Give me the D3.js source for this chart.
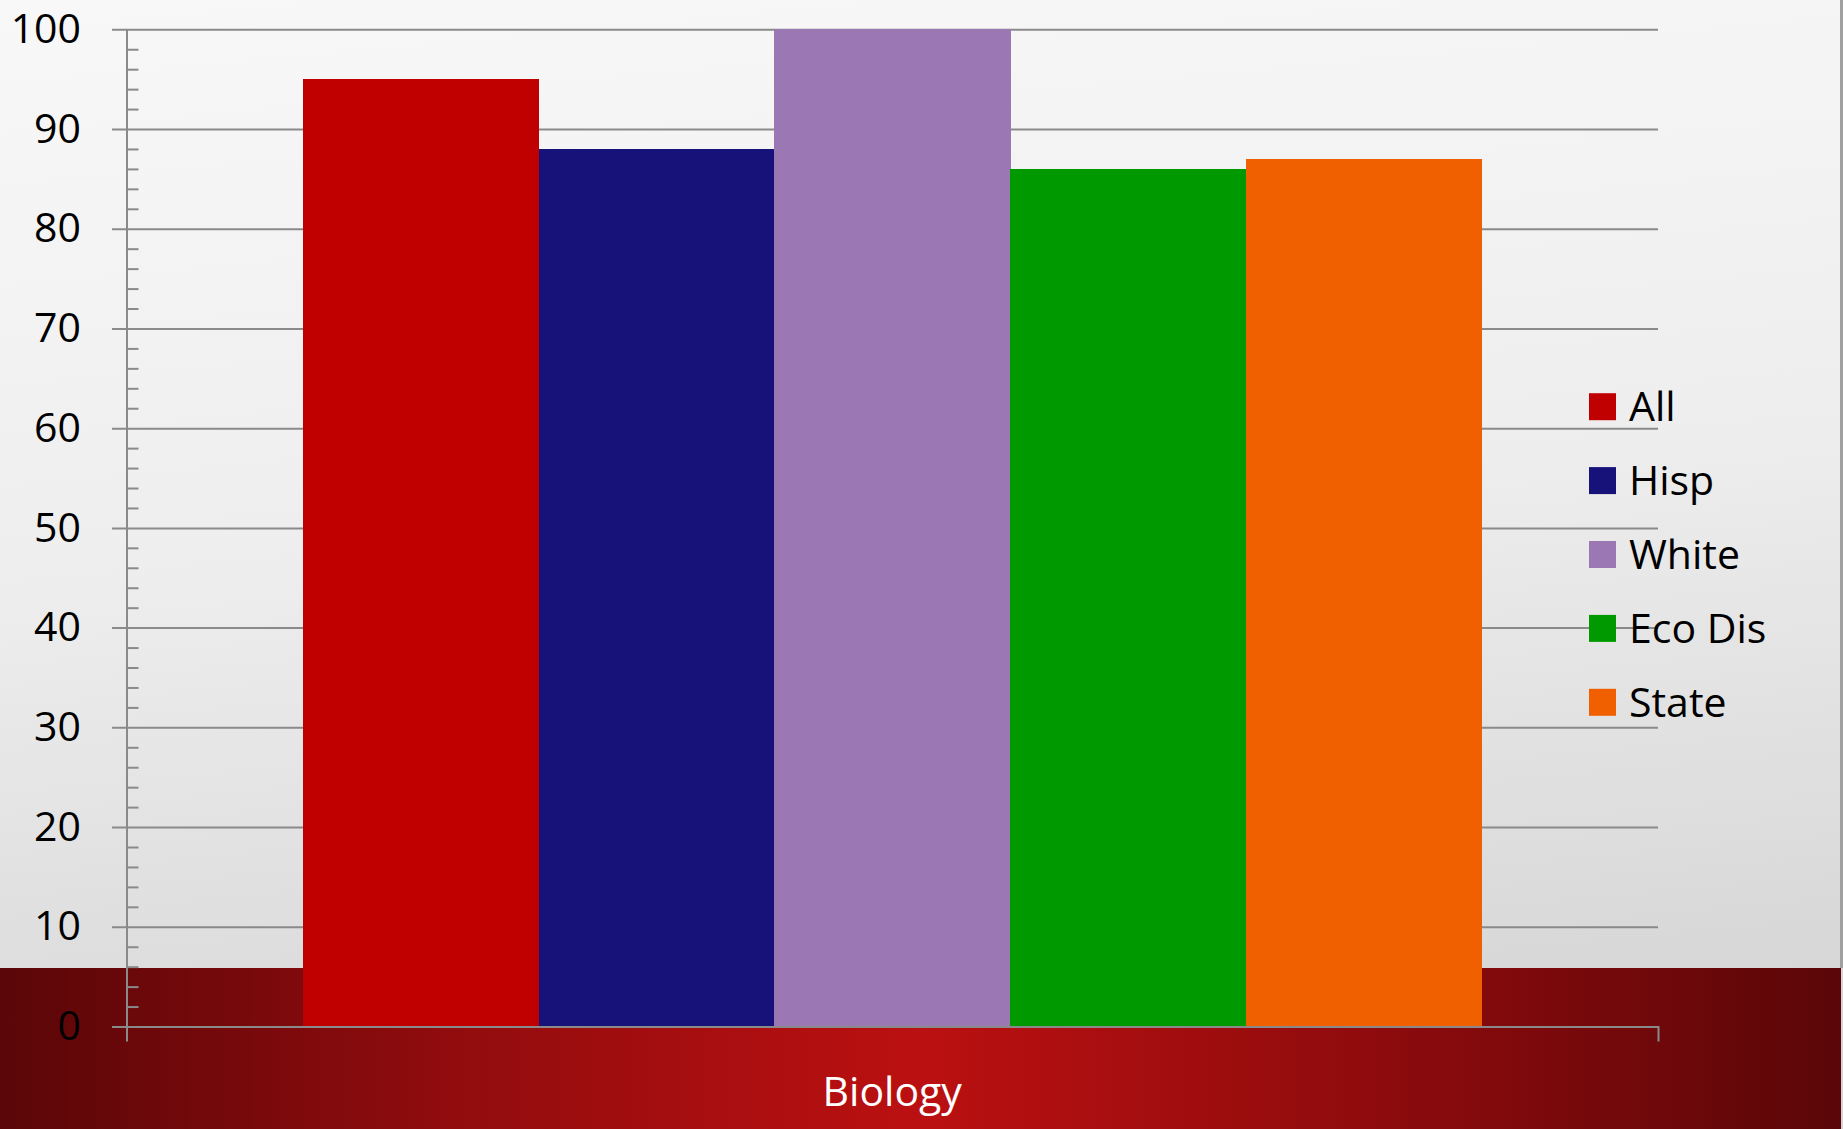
<!DOCTYPE html>
<html><head><meta charset="utf-8">
<script src="https://cdn.jsdelivr.net/npm/d3@7"></script>
<style>html,body{margin:0;padding:0;overflow:hidden;background:#fff}svg{display:block}</style>
</head><body>
<script>
const categories = ["Biology"];
const seriesNames = ["All", "Hisp", "White", "Eco Dis", "State"];
const seriesValues = [95, 88, 100, 86, 87];
const seriesColors = ["#C00000", "#17127A", "#9B78B4", "#009900", "#F06000"];
const yMajorTicks = [0, 10, 20, 30, 40, 50, 60, 70, 80, 90, 100];
const yMinorTicks = d3.range(0, 101, 2).filter(v => v % 10 !== 0);

const W = 1843, H = 1129;
const plotL = 126.5, plotR = 1658, plotT = 29.3, plotB = 1026.5;
const font = "'Open Sans', 'Liberation Sans', sans-serif";

const svg = d3.select("body").append("svg").attr("width", W).attr("height", H);
const defs = svg.append("defs");
const bg = defs.append("linearGradient").attr("id", "bg").attr("x1", 0).attr("y1", 0).attr("x2", 0.15).attr("y2", 1);
bg.append("stop").attr("offset", 0).attr("stop-color", "#f8f8f8");
bg.append("stop").attr("offset", 0.5).attr("stop-color", "#eeeeee");
bg.append("stop").attr("offset", 1).attr("stop-color", "#d6d6d6");
const band = defs.append("linearGradient").attr("id", "band").attr("x1", 0).attr("y1", 0).attr("x2", 1).attr("y2", 0);
band.append("stop").attr("offset", 0).attr("stop-color", "#5a0608");
band.append("stop").attr("offset", 0.25).attr("stop-color", "#920c0e");
band.append("stop").attr("offset", 0.5).attr("stop-color", "#bb1011");
band.append("stop").attr("offset", 0.75).attr("stop-color", "#8e0b0d");
band.append("stop").attr("offset", 1).attr("stop-color", "#5a0608");

svg.append("rect").attr("width", W).attr("height", H).attr("fill", "url(#bg)");
svg.append("rect").attr("x", 1840).attr("y", 0).attr("width", 3).attr("height", 968).attr("fill", "#a0a0a0");
svg.append("rect").attr("x", 0).attr("y", 968).attr("width", 1841).attr("height", H - 968).attr("fill", "url(#band)");

const y = d3.scaleLinear().domain([0, 100]).range([plotB, plotT]);
const x0 = d3.scaleBand().domain(categories).range([plotL, plotR]).paddingInner(0).paddingOuter(0);
const x1 = d3.scaleBand().domain(seriesNames).range([0, x0.bandwidth()]).paddingInner(0).paddingOuter(0.75);

// gridlines + labels
const grid = svg.append("g").attr("transform", `translate(112,0)`)
  .call(d3.axisLeft(y).tickValues(yMajorTicks).tickSize(-(plotR - 112)).tickPadding(31).tickFormat(d3.format("d")));
grid.select(".domain").remove();
grid.selectAll(".tick line").attr("stroke", "#8a8a8a").attr("stroke-width", 2);
grid.selectAll(".tick text").attr("fill", "#000").style("font-family", font).style("font-size", "41px");

// bars
const data = seriesNames.map((n, i) => ({ name: n, value: seriesValues[i], color: seriesColors[i], cat: categories[0] }));
svg.append("g").attr("shape-rendering", "crispEdges").selectAll("rect").data(data).join("rect")
  .attr("x", d => x0(d.cat) + x1(d.name))
  .attr("y", d => y(d.value))
  .attr("width", x1.bandwidth() + 0.5)
  .attr("height", d => y(0) - y(d.value))
  .attr("fill", d => d.color);

// vertical axis with minor ticks
const ax = svg.append("g").attr("transform", `translate(${plotL},0)`)
  .call(d3.axisRight(y).tickValues(yMinorTicks).tickSize(12).tickSizeOuter(0).tickFormat(""));
ax.select(".domain").attr("stroke", "#8a8a8a").attr("stroke-width", 2);
ax.selectAll(".tick line").attr("stroke", "#8a8a8a").attr("stroke-width", 2);

// category axis
const bx = svg.append("g").attr("transform", `translate(0,${plotB})`)
  .call(d3.axisBottom(x0).tickSizeInner(0).tickSizeOuter(15).tickPadding(50));
bx.select(".domain").attr("stroke", "#8a8a8a").attr("stroke-width", 2);
bx.selectAll(".tick text").attr("fill", "#fff").style("font-family", font).style("font-size", "41px");

// legend
const leg = svg.append("g").selectAll("g").data(data).join("g")
  .attr("transform", (d, i) => `translate(1589,${406.7 + i * 73.9})`);
leg.append("rect").attr("x", 0).attr("y", -13.5).attr("width", 27).attr("height", 27).attr("fill", d => d.color);
leg.append("text").attr("x", 40).attr("y", 0).attr("dy", "0.36em").text(d => d.name)
  .attr("fill", "#000").style("font-family", font).style("font-size", "41px");
</script>
</body></html>
